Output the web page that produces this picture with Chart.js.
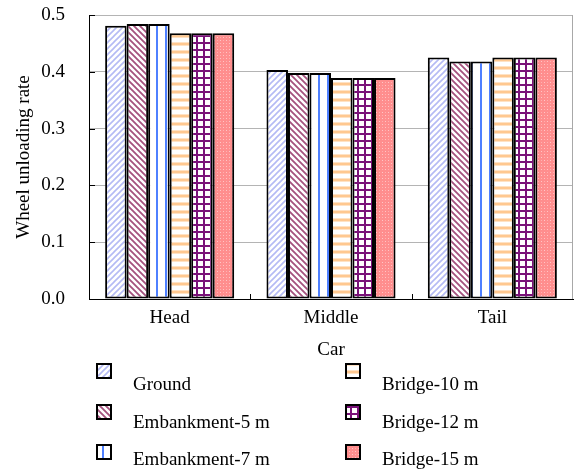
<!DOCTYPE html>
<html>
<head>
<meta charset="utf-8">
<script src="https://cdn.jsdelivr.net/npm/chart.js@4.4.1/dist/chart.umd.min.js"></script>
<style>
  html, body { margin: 0; padding: 0; background: #ffffff; }
  #wrap { width: 574px; height: 470px; position: relative; }
</style>
</head>
<body>
<div id="wrap"><canvas id="c" width="574" height="470"></canvas></div>
<script>
// ---- data ----
const categories = ['Head', 'Middle', 'Tail'];
const seriesNames = ['Ground', 'Embankment-5 m', 'Embankment-7 m', 'Bridge-10 m', 'Bridge-12 m', 'Bridge-15 m'];
const ground     = [0.481, 0.403, 0.425];
const embank5    = [0.484, 0.398, 0.418];
const embank7    = [0.484, 0.398, 0.418];
const bridge10   = [0.468, 0.389, 0.425];
const bridge12   = [0.468, 0.389, 0.425];
const bridge15   = [0.468, 0.389, 0.425];
const yTicks     = [0.0, 0.1, 0.2, 0.3, 0.4, 0.5];
const xTitle = 'Car';
const yTitle = 'Wheel unloading rate';

const FONT = '"Liberation Serif", "Times New Roman", serif';

// ---- patterns ----
function mk(w, h, draw) {
  const c = document.createElement('canvas');
  c.width = w; c.height = h;
  const g = c.getContext('2d');
  draw(g, w, h);
  return document.createElement('canvas').getContext('2d').createPattern(c, 'repeat');
}
const patGround = mk(6, 6, (g, w, h) => {
  g.fillStyle = '#ffffff'; g.fillRect(0, 0, w, h);
  g.strokeStyle = '#b4baf4'; g.lineWidth = 1.6;
  g.beginPath();
  g.moveTo(-1, h + 1); g.lineTo(w + 1, -1);
  g.moveTo(-1, 1); g.lineTo(1, -1);
  g.moveTo(w - 1, h + 1); g.lineTo(w + 1, h - 1);
  g.stroke();
});
const patEmb5 = mk(6, 6, (g, w, h) => {
  g.fillStyle = '#ffffff'; g.fillRect(0, 0, w, h);
  g.strokeStyle = '#a5527e'; g.lineWidth = 1.8;
  g.beginPath();
  g.moveTo(-1, -1); g.lineTo(w + 1, h + 1);
  g.moveTo(w - 1, -1); g.lineTo(w + 1, 1);
  g.moveTo(-1, h - 1); g.lineTo(1, h + 1);
  g.stroke();
});
const patEmb7 = mk(9, 8, (g, w, h) => {
  g.fillStyle = '#ffffff'; g.fillRect(0, 0, w, h);
  g.fillStyle = '#4f80ff'; g.fillRect(3, 0, 2, h);
});
const patB10 = mk(8, 8, (g, w, h) => {
  g.fillStyle = '#ffffff'; g.fillRect(0, 0, w, h);
  g.fillStyle = '#ffe2c4'; g.fillRect(0, 2, w, 4);
  g.fillStyle = '#ffc890'; g.fillRect(0, 3, w, 2);
});
const patB12 = mk(7, 7, (g, w, h) => {
  g.fillStyle = '#ffffff'; g.fillRect(0, 0, w, h);
  g.fillStyle = '#7a1279';
  g.fillRect(0, 0, 2, h);
  g.fillRect(0, 0, w, 2);
});
const patB15 = mk(6, 6, (g, w, h) => {
  g.fillStyle = '#ff8e8e'; g.fillRect(0, 0, w, h);
  g.fillStyle = '#ffc6c6';
  g.fillRect(1, 1, 1, 1); g.fillRect(4, 4, 1, 1);
  g.fillStyle = '#ffb0b0';
  g.fillRect(4, 1, 1, 1); g.fillRect(1, 4, 1, 1);
});
const patterns = [patGround, patEmb5, patEmb7, patB10, patB12, patB15];
const values = [ground, embank5, embank7, bridge10, bridge12, bridge15];

const datasets = seriesNames.map((n, i) => ({
  label: n,
  data: values[i],
  backgroundColor: patterns[i],
  borderColor: '#000000',
  borderWidth: 2,
  borderSkipped: false,
  categoryPercentage: 0.8,
  barPercentage: 1.0
}));

// ---- plugin: inner ticks, right frame, custom legend ----
const decor = {
  id: 'decor',
  beforeDatasetsDraw(chart) {
    const { ctx, chartArea: a } = chart;
    ctx.save();
    ctx.strokeStyle = '#a8a8a8'; ctx.lineWidth = 1;
    ctx.beginPath();
    ctx.moveTo(a.right - 0.5, a.top); ctx.lineTo(a.right - 0.5, a.bottom);
    ctx.stroke();
    ctx.restore();
  },
  afterDraw(chart) {
    const { ctx, chartArea: a, scales } = chart;
    ctx.save();
    ctx.strokeStyle = '#000000'; ctx.lineWidth = 1;
    ctx.beginPath();
    yTicks.forEach(v => {
      const y = Math.round(scales.y.getPixelForValue(v)) + 0.5;
      ctx.moveTo(a.left, y); ctx.lineTo(a.left + 6, y);
    });
    const n = categories.length;
    for (let i = 1; i < n; i++) {
      const x = Math.round((scales.x.getPixelForValue(i - 1) + scales.x.getPixelForValue(i)) / 2) + 0.5;
      ctx.moveTo(x, a.bottom); ctx.lineTo(x, a.bottom - 5);
    }
    ctx.stroke();

    // legend
    const cols = [{ bx: 97, tx: 133 }, { bx: 346, tx: 382 }];
    const rows = [{ by: 364, ty: 385 }, { by: 405, ty: 423 }, { by: 445, ty: 460 }];
    ctx.font = '19px ' + FONT;
    ctx.textBaseline = 'middle';
    ctx.textAlign = 'left';
    seriesNames.forEach((name, i) => {
      const c = cols[Math.floor(i / 3)], r = rows[i % 3];
      ctx.fillStyle = patterns[i];
      ctx.fillRect(c.bx, r.by, 14, 14);
      ctx.strokeStyle = '#000000'; ctx.lineWidth = 2;
      ctx.strokeRect(c.bx, r.by, 14, 14);
      ctx.fillStyle = '#000000';
      ctx.fillText(name, c.tx, r.ty);
    });
    ctx.restore();
  }
};

new Chart(document.getElementById('c'), {
  type: 'bar',
  data: { labels: categories, datasets },
  options: {
    responsive: false,
    animation: false,
    devicePixelRatio: 1,
    layout: { padding: { top: 15, right: 1, left: 0, bottom: 109 } },
    plugins: { legend: { display: false }, tooltip: { enabled: false } },
    scales: {
      x: {
        grid: { display: false, drawTicks: false },
        border: { display: true, color: '#000000', width: 1 },
        ticks: { color: '#000000', padding: 8, font: { family: FONT, size: 19 } },
        title: { display: true, text: xTitle, color: '#000000', padding: { top: 0, bottom: 0 }, font: { family: FONT, size: 19 } },
        afterFit(s) { s.height = 62; s.paddingLeft = 0; s.paddingRight = 0; }
      },
      y: {
        min: 0, max: 0.5,
        afterBuildTicks(s) { s.ticks = yTicks.map(v => ({ value: v })); },
        grid: { color: '#b4b4b4', lineWidth: 1, drawTicks: false },
        border: { display: true, color: '#000000', width: 1 },
        ticks: {
          color: '#000000', padding: 24,
          font: { family: FONT, size: 19 },
          callback: v => Number(v).toFixed(1)
        },
        title: { display: true, text: yTitle, color: '#000000', padding: { top: 13, bottom: 0 }, font: { family: FONT, size: 19 } },
        afterFit(s) { s.width = 89; s.paddingTop = 0; s.paddingBottom = 0; }
      }
    }
  },
  plugins: [decor]
});
</script>
</body>
</html>
